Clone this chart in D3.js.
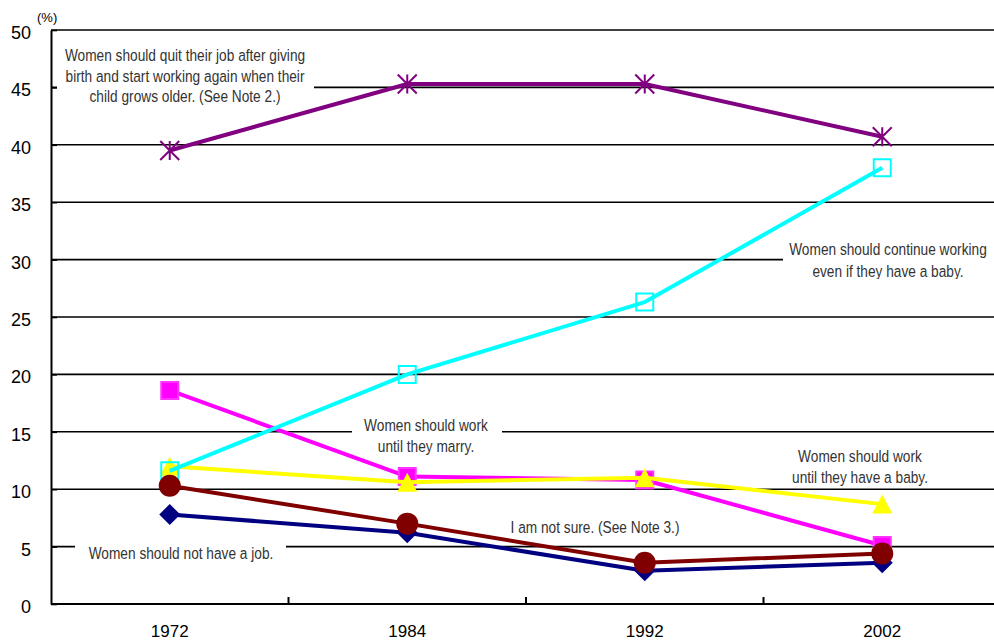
<!DOCTYPE html>
<html>
<head>
<meta charset="utf-8">
<script src="https://cdn.jsdelivr.net/npm/d3@7"></script>
<style>
  html, body { margin: 0; padding: 0; background: #fff; }
  svg { display: block; }
</style>
</head>
<body>
<svg id="chart" width="994" height="641"></svg>
<script>
// ---- data ----
const years = ["1972", "1984", "1992", "2002"];
const yTicks = [0, 5, 10, 15, 20, 25, 30, 35, 40, 45, 50];
const notHaveJob      = [7.8, 6.2, 2.9, 3.6];
const untilMarry      = [18.6, 11.1, 10.8, 5.1];
const untilBaby       = [12.0, 10.6, 11.0, 8.7];
const continueWorking = [11.6, 20.0, 26.3, 38.0];
const quitAndReturn   = [39.5, 45.3, 45.3, 40.7];
const notSure         = [10.3, 7.0, 3.6, 4.4];

const labelQuit     = ["Women should quit their job after giving", "birth and start working again when their", "child grows older. (See Note 2.)"];
const labelNoJob    = ["Women should not have a job."];
const labelMarry    = ["Women should work", "until they marry."];
const labelContinue = ["Women should continue working", "even if they have a baby."];
const labelBaby     = ["Women should work", "until they have a baby."];
const labelNotSure  = ["I am not sure. (See Note 3.)"];

// ---- layout ----
const svg = d3.select("#chart");
const pLeft = 51, pRight = 1001, pTop = 30, pBottom = 604, W = 994;
const x = d3.scaleBand().domain(years).range([pLeft, pRight]);
const cx = d => x(d) + x.bandwidth() / 2;
const y = d3.scaleLinear().domain([0, 50]).range([pBottom, pTop]);
const FONT = "'Liberation Sans', Arial, sans-serif";

// gridlines
svg.append("g").selectAll("line").data(yTicks.filter(t => t > 0)).join("line")
  .attr("x1", pLeft).attr("x2", W)
  .attr("y1", d => y(d)).attr("y2", d => y(d))
  .attr("stroke", "#000").attr("stroke-width", 1.6);

// y axis (ticks inside)
const yAxis = svg.append("g").attr("transform", `translate(${pLeft},0)`)
  .call(d3.axisLeft(y).tickValues(yTicks).tickSizeInner(-6).tickSizeOuter(0).tickPadding(20));
yAxis.select(".domain").attr("stroke", "#000").attr("stroke-width", 2);
yAxis.selectAll(".tick line").attr("stroke", "#000").attr("stroke-width", 1.6);
yAxis.selectAll("text").attr("font-family", FONT)
  .attr("font-size", 18).attr("fill", "#000").attr("dy", "0.47em");

// x axis
svg.append("line").attr("x1", pLeft).attr("x2", W).attr("y1", pBottom).attr("y2", pBottom)
  .attr("stroke", "#000").attr("stroke-width", 2);
svg.append("g").selectAll("line").data(years.slice(1)).join("line")
  .attr("x1", d => x(d)).attr("x2", d => x(d))
  .attr("y1", pBottom).attr("y2", pBottom - 7)
  .attr("stroke", "#000").attr("stroke-width", 2);
svg.append("g").selectAll("text").data(years).join("text")
  .attr("x", d => cx(d)).attr("y", 637)
  .attr("text-anchor", "middle")
  .attr("font-family", FONT)
  .attr("font-size", 17).attr("fill", "#000")
  .text(d => d);

svg.append("text").attr("x", 37).attr("y", 22)
  .attr("font-family", FONT)
  .attr("font-size", 13).attr("fill", "#000").text("(%)");

// ---- annotation boxes ----
const annotations = [
  { lines: labelQuit,     box: [57, 38, 314, 106],  cx: 185, y0: 61,  dy: 20.5 },
  { lines: labelNoJob,    box: [75, 539, 286, 566], cx: 181, y0: 559, dy: 20 },
  { lines: labelMarry,    box: [352, 413, 502, 456], cx: 426, y0: 431, dy: 20.5 },
  { lines: labelContinue, box: [783, 238, 994, 279], cx: 888, y0: 255, dy: 22 },
  { lines: labelBaby,     box: [785, 443, 935, 486], cx: 860, y0: 462, dy: 21 },
  { lines: labelNotSure,  box: [505, 515, 685, 538], cx: 595, y0: 533, dy: 20 }
];
const ann = svg.append("g");
annotations.forEach((a, i) => {
  const [x0, y0, x1, y1] = a.box;
  ann.append("clipPath").attr("id", "clip" + i).append("rect")
    .attr("x", x0).attr("y", y0).attr("width", x1 - x0).attr("height", y1 - y0);
  ann.append("rect").attr("x", x0).attr("y", y0).attr("width", x1 - x0).attr("height", y1 - y0)
    .attr("fill", "#fff");
  const g = ann.append("g").attr("clip-path", `url(#clip${i})`);
  a.lines.forEach((t, j) => {
    g.append("text")
      .attr("transform", `translate(${a.cx},${a.y0 + j * a.dy}) scale(0.83,1)`)
      .attr("text-anchor", "middle")
      .attr("font-family", FONT)
      .attr("font-size", 16.5).attr("fill", "#333")
      .text(t);
  });
});

// ---- series ----
const star = {
  draw(ctx, size) {
    const r = 9.5;
    ctx.moveTo(-r, -r); ctx.lineTo(r, r);
    ctx.moveTo(r, -r); ctx.lineTo(-r, r);
    ctx.moveTo(0, -r); ctx.lineTo(0, r);
  }
};
const diamond = {
  draw(ctx, size) {
    const r = 10.5;
    ctx.moveTo(0, -r); ctx.lineTo(r, 0); ctx.lineTo(0, r); ctx.lineTo(-r, 0); ctx.closePath();
  }
};
const triangle = {
  draw(ctx, size) {
    const w = 10, h = 9.5;
    ctx.moveTo(0, -h); ctx.lineTo(w, h); ctx.lineTo(-w, h); ctx.closePath();
  }
};
const square = {
  draw(ctx, size) {
    const r = 8.5;
    ctx.rect(-r, -r, 2 * r, 2 * r);
  }
};
const circle = {
  draw(ctx, size) {
    ctx.arc(0, 0, 11, 0, 2 * Math.PI);
  }
};

const series = [
  { values: notHaveJob,      color: "#000080", symbol: diamond,  fill: "#000080", stroke: "none" },
  { values: untilMarry,      color: "#FF00FF", symbol: square,   fill: "#FF00FF", stroke: "#FF33FF" },
  { values: untilBaby,       color: "#FFFF00", symbol: triangle, fill: "#FFFF00", stroke: "none" },
  { values: continueWorking, color: "#00FFFF", symbol: square,   fill: "none",    stroke: "#00FFFF" },
  { values: quitAndReturn,   color: "#800080", symbol: star,     fill: "none",    stroke: "#800080" },
  { values: notSure,         color: "#800000", symbol: circle,   fill: "#800000", stroke: "none" }
];

const line = d3.line().x(d => cx(d.year)).y(d => y(d.v));
series.forEach(s => {
  const pts = years.map((yr, i) => ({ year: yr, v: s.values[i] }));
  const g = svg.append("g");
  g.append("path").datum(pts).attr("d", line)
    .attr("fill", "none").attr("stroke", s.color).attr("stroke-width", 4)
    .attr("stroke-linejoin", "round");
  g.selectAll("path.m").data(pts).join("path").attr("class", "m")
    .attr("transform", d => `translate(${cx(d.year)},${y(d.v)})`)
    .attr("d", d3.symbol().type(s.symbol)())
    .attr("fill", s.fill).attr("stroke", s.stroke).attr("stroke-width", 2);
});
</script>
</body>
</html>
